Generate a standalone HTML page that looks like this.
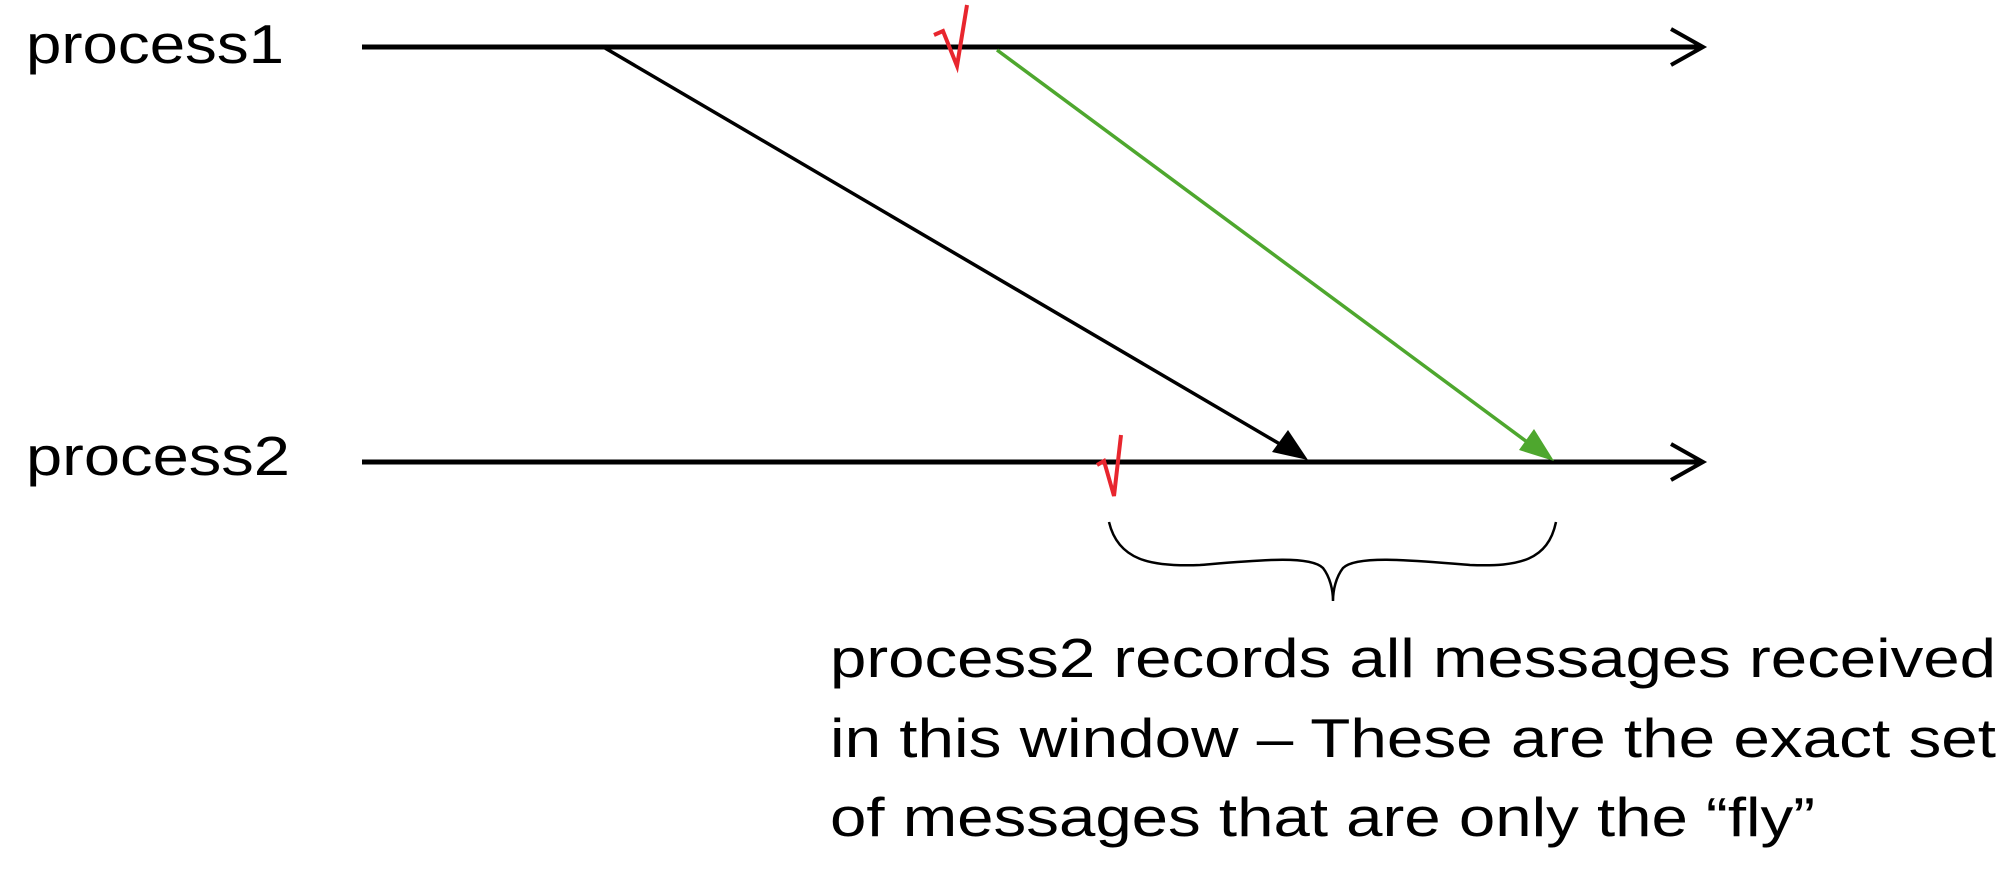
<!DOCTYPE html>
<html><head><meta charset="utf-8"><style>
html,body{margin:0;padding:0;background:#fff;}
svg{display:block;font-family:"Liberation Sans",Arial,sans-serif;}
</style></head><body>
<svg width="2000" height="869" viewBox="0 0 2000 869">
<text x="26" y="63" font-size="55" textLength="258" lengthAdjust="spacingAndGlyphs">process1</text>
<text x="26" y="475" font-size="55" textLength="264" lengthAdjust="spacingAndGlyphs">process2</text>
<g>
<line x1="362" y1="47" x2="1702" y2="47" stroke="#000" stroke-width="5"/>
<polyline points="1671,29 1703,47 1671,65" fill="none" stroke="#000" stroke-width="4"/>
</g>
<g>
<line x1="362" y1="462" x2="1702" y2="462" stroke="#000" stroke-width="5"/>
<polyline points="1671,444 1703,462 1671,480" fill="none" stroke="#000" stroke-width="4"/>
</g>
<g>
<line x1="605" y1="48" x2="1290" y2="450" stroke="#000" stroke-width="3.5"/>
<polygon points="1308,460 1272,452 1288,430" fill="#000"/>
</g>
<g>
<line x1="997" y1="50" x2="1538" y2="450" stroke="#4ea72e" stroke-width="3.5"/>
<polygon points="1554,461 1519,450 1534,429" fill="#4ea72e"/>
</g>
<path d="M934,35 L943,31 L957,66 L967,5" fill="none" stroke="#e8262e" stroke-width="4"/>
<path d="M1097,465 L1104,461 L1114,496 L1121,435" fill="none" stroke="#e8262e" stroke-width="4"/>
<path d="M1109,522 C1118,560 1150,567 1200,565 C1260,560 1310,555 1323,568 C1330,577 1333,590 1333,601 C1333,590 1336,577 1343,568 C1356,555 1410,560 1470,565 C1520,567 1548,560 1556,522" fill="none" stroke="#000" stroke-width="2.5"/>
<g font-size="55">
<text x="830" y="677" textLength="1166" lengthAdjust="spacingAndGlyphs">process2 records all messages received</text>
<text x="830" y="757" textLength="1166" lengthAdjust="spacingAndGlyphs">in this window – These are the exact set</text>
<text x="830" y="836" textLength="985" lengthAdjust="spacingAndGlyphs">of messages that are only the “fly”</text>
</g>
</svg>
</body></html>
